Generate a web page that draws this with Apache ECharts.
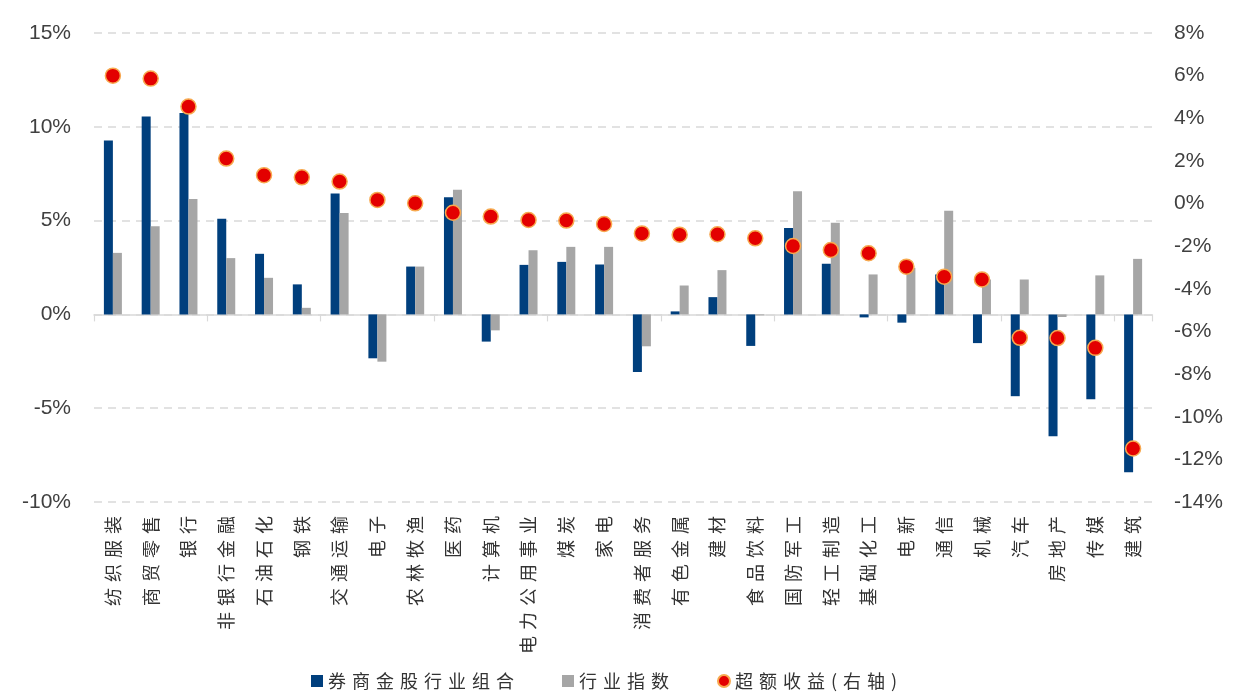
<!DOCTYPE html>
<html>
<head>
<meta charset="utf-8">
<script src="https://cdn.jsdelivr.net/npm/echarts@6/dist/echarts.min.js"></script>
<style>
html,body{margin:0;padding:0;background:#fff;}
#chart{width:1239px;height:699px;}
</style>
</head>
<body>
<div id="chart"></div>
<script>
const categories = ['纺织服装','商贸零售','银行','非银行金融','石油石化','钢铁','交通运输','电子','农林牧渔','医药','计算机','电力公用事业','煤炭','家电','消费者服务','有色金属','建材','食品饮料','国防军工','轻工制造','基础化工','电新','通信','机械','汽车','房地产','传媒','建筑'];
const portfolio = [9.27, 10.55, 10.73, 5.10, 3.23, 1.60, 6.45, -2.34, 2.55, 6.24, -1.45, 2.64, 2.80, 2.66, -3.07, 0.16, 0.92, -1.68, 4.61, 2.70, -0.16, -0.44, 2.13, -1.53, -4.36, -6.49, -4.52, -8.42];
const industry = [3.28, 4.70, 6.15, 3.00, 1.95, 0.35, 5.40, -2.52, 2.55, 6.65, -0.85, 3.42, 3.60, 3.60, -1.70, 1.54, 2.36, -0.05, 6.56, 4.88, 2.13, 2.48, 5.53, 1.86, 1.86, -0.14, 2.08, 2.96];
const excess = [6.00, 5.86, 4.55, 2.11, 1.33, 1.23, 1.03, 0.17, 0.01, -0.43, -0.61, -0.77, -0.80, -0.96, -1.40, -1.46, -1.44, -1.63, -1.99, -2.18, -2.33, -2.96, -3.43, -3.56, -6.30, -6.31, -6.77, -11.49];
const leftTicks = {min: -10, max: 15, interval: 5};
const rightTicks = {min: -14, max: 8, interval: 2};
const seriesNames = ['券商金股行业组合', '行业指数', '超额收益(右轴)'];

const spaced = s => s.split('').join('\u2004');
const cjk = '"Noto Sans CJK SC", sans-serif';
const num = '"Liberation Sans", Arial, sans-serif';

const chart = echarts.init(document.getElementById('chart'), null, {renderer: 'canvas'});
chart.setOption({
  backgroundColor: '#ffffff',
  animation: false,
  grid: {left: 94, right: 87, top: 33, bottom: 197, containLabel: false},
  legend: {
    left: 306, top: 667,
    itemWidth: 12, itemHeight: 12, itemGap: 48,
    textStyle: {fontSize: 18, color: '#333', fontFamily: cjk},
    formatter: n => spaced(n),
    data: [
      {name: seriesNames[0], icon: 'rect'},
      {name: seriesNames[1], icon: 'rect'},
      {name: seriesNames[2], icon: 'circle'}
    ]
  },
  xAxis: [
    {
      type: 'category', data: categories, position: 'bottom',
      axisLine: {onZero: true, onZeroAxisIndex: 0, lineStyle: {color: '#d9d9d9', width: 1.5}},
      axisTick: {show: true, length: 7, lineStyle: {color: '#d9d9d9', width: 1.2}},
      axisLabel: {show: false},
      splitLine: {show: false}
    },
    {
      type: 'category', data: categories, position: 'bottom',
      axisLine: {show: false, onZero: false},
      axisTick: {show: false},
      axisLabel: {rotate: 90, margin: 14, fontSize: 18, color: '#333', fontFamily: cjk, interval: 0,
                  formatter: v => spaced(v)},
      splitLine: {show: false}
    }
  ],
  yAxis: [
    {
      type: 'value', min: leftTicks.min, max: leftTicks.max, interval: leftTicks.interval,
      axisLine: {show: false}, axisTick: {show: false},
      axisLabel: {formatter: v => v + '%', fontSize: 21, color: '#404040', fontFamily: num, margin: 23},
      splitLine: {show: true, lineStyle: {color: '#d9d9d9', type: [8, 6], width: 1.5}}
    },
    {
      type: 'value', min: rightTicks.min, max: rightTicks.max, interval: rightTicks.interval,
      axisLine: {show: false}, axisTick: {show: false},
      axisLabel: {formatter: v => v + '%', fontSize: 21, color: '#404040', fontFamily: num, margin: 22},
      splitLine: {show: false}
    }
  ],
  series: [
    {
      name: seriesNames[0], type: 'bar', data: portfolio, xAxisIndex: 0, yAxisIndex: 0,
      barWidth: 9, barGap: '0%', itemStyle: {color: '#003f7d'}
    },
    {
      name: seriesNames[1], type: 'bar', data: industry, xAxisIndex: 0, yAxisIndex: 0,
      barWidth: 9, barGap: '0%', itemStyle: {color: '#a6a6a6'}
    },
    {
      name: seriesNames[2], type: 'scatter', data: excess, xAxisIndex: 0, yAxisIndex: 1,
      symbol: 'circle', symbolSize: 15, z: 5,
      itemStyle: {color: '#e30000', borderColor: '#f7a94f', borderWidth: 1.5, opacity: 1}
    }
  ]
});
</script>
</body>
</html>
